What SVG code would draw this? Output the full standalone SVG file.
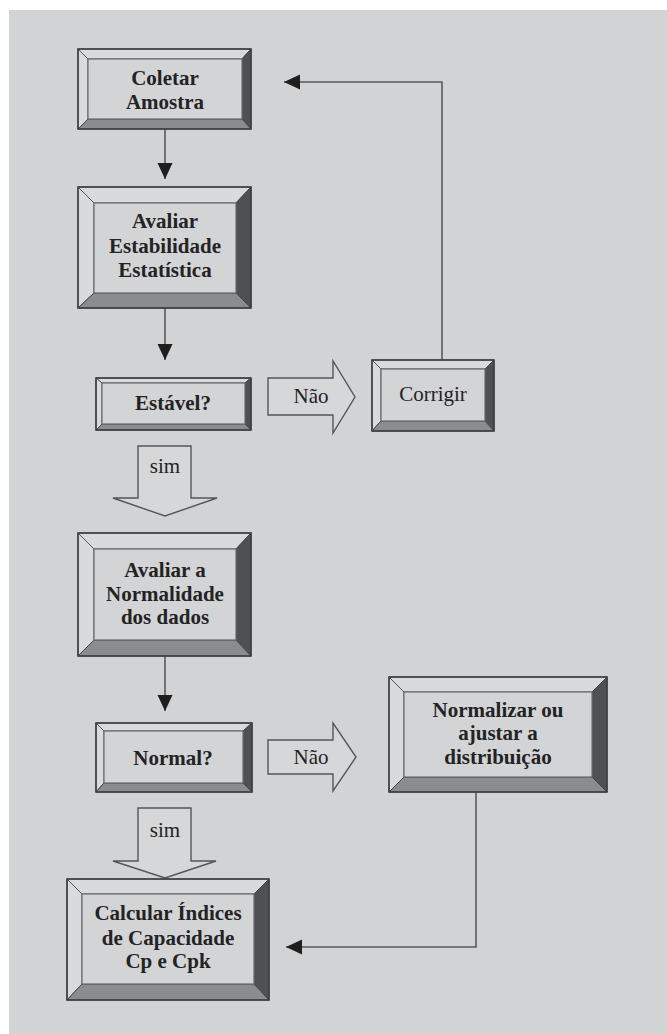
<svg xmlns="http://www.w3.org/2000/svg" width="667" height="1034" viewBox="0 0 667 1034">
<style>
.t{font-family:"Liberation Serif","Times New Roman",serif;font-size:21px;fill:#232323;text-anchor:middle}
.b{font-weight:bold}
.lt{fill:#d9dadc;stroke:#555;stroke-width:1}
.md{fill:#8b8c8f;stroke:#444;stroke-width:1}
.dk{fill:#4f5053;stroke:#444;stroke-width:1}
.face{fill:#d3d4d6;stroke:#6a6b6e;stroke-width:1.2}
.outer{fill:none;stroke:#3e3f42;stroke-width:1.6}
.blk{fill:#d6d7d9;stroke:#555;stroke-width:1.4;stroke-linejoin:miter}
.ln{fill:none;stroke:#5a5a5c;stroke-width:1.6}
</style>
<defs>
<marker id="ah" markerUnits="userSpaceOnUse" markerWidth="18" markerHeight="16" refX="16" refY="7.5" orient="auto">
<path d="M0,0 L16,7.5 L0,15 z" fill="#1e1e1e"/>
</marker>
</defs>
<rect x="0" y="0" width="667" height="1034" fill="#ffffff"/>
<rect x="9" y="10" width="658" height="1024" fill="#d2d3d5"/>

<g id="connectors">
<line class="ln" x1="165" y1="129" x2="165" y2="179" marker-end="url(#ah)"/>
<line class="ln" x1="165" y1="308" x2="165" y2="360" marker-end="url(#ah)"/>
<line class="ln" x1="165" y1="656" x2="165" y2="711" marker-end="url(#ah)"/>
<polyline class="ln" points="442,360 442,82 284,82" marker-end="url(#ah)"/>
<polyline class="ln" points="476,792 476,947 286,947" marker-end="url(#ah)"/>
<g id="nao1">
<polygon class="blk" points="268,378 333,378 333,361 355,397 333,433 333,415 268,415"/>
<text class="t" x="311" y="403">Não</text>
</g>
<g id="nao2">
<polygon class="blk" points="268,740 333,740 333,723 356,757 333,791 333,774 268,774"/>
<text class="t" x="311" y="764">Não</text>
</g>
<g id="sim1">
<polygon class="blk" points="138,446 191,446 191,498 217,498 165,516 113,498 138,498"/>
<text class="t" x="165" y="473">sim</text>
</g>
<g id="sim2">
<polygon class="blk" points="138,808 191,808 191,861 216,861 165,878 113,861 138,861"/>
<text class="t" x="165" y="837">sim</text>
</g>
</g>

<g id="coletar">
<polygon class="lt" points="78,49 251,49 242,59 88,59"/>
<polygon class="lt" points="78,49 88,59 88,119 78,129"/>
<polygon class="dk" points="251,49 251,129 242,119 242,59"/>
<polygon class="md" points="78,129 88,119 242,119 251,129"/>
<rect class="face" x="88" y="59" width="154" height="60"/>
<rect class="outer" x="78" y="49" width="173" height="80"/>
<text class="t b" x="165" y="85">Coletar</text>
<text class="t b" x="165" y="109">Amostra</text>
</g>

<g id="avaliar-estabilidade">
<polygon class="lt" points="78,187 251,187 236,203 94,203"/>
<polygon class="lt" points="78,187 94,203 94,293 78,308"/>
<polygon class="dk" points="251,187 251,308 236,293 236,203"/>
<polygon class="md" points="78,308 94,293 236,293 251,308"/>
<rect class="face" x="94" y="203" width="142" height="90"/>
<rect class="outer" x="78" y="187" width="173" height="121"/>
<text class="t b" x="165" y="228">Avaliar</text>
<text class="t b" x="165" y="253">Estabilidade</text>
<text class="t b" x="165" y="277">Estatística</text>
</g>

<g id="estavel">
<polygon class="lt" points="96,378 251,378 245,383 102,383"/>
<polygon class="lt" points="96,378 102,383 102,424 96,430"/>
<polygon class="dk" points="251,378 251,430 245,424 245,383"/>
<polygon class="md" points="96,430 102,424 245,424 251,430"/>
<rect class="face" x="102" y="383" width="143" height="41"/>
<rect class="outer" x="96" y="378" width="155" height="52"/>
<text class="t b" x="173" y="410">Estável?</text>
</g>

<g id="corrigir">
<polygon class="lt" points="372,360 494,360 485,369 381,369"/>
<polygon class="lt" points="372,360 381,369 381,421 372,431"/>
<polygon class="dk" points="494,360 494,431 485,421 485,369"/>
<polygon class="md" points="372,431 381,421 485,421 494,431"/>
<rect class="face" x="381" y="369" width="104" height="52"/>
<rect class="outer" x="372" y="360" width="122" height="71"/>
<text class="t" x="433" y="401">Corrigir</text>
</g>

<g id="avaliar-normalidade">
<polygon class="lt" points="78,533 251,533 236,549 94,549"/>
<polygon class="lt" points="78,533 94,549 94,640 78,656"/>
<polygon class="dk" points="251,533 251,656 236,640 236,549"/>
<polygon class="md" points="78,656 94,640 236,640 251,656"/>
<rect class="face" x="94" y="549" width="142" height="91"/>
<rect class="outer" x="78" y="533" width="173" height="123"/>
<text class="t b" x="165" y="577">Avaliar a</text>
<text class="t b" x="165" y="601">Normalidade</text>
<text class="t b" x="165" y="624">dos dados</text>
</g>

<g id="normal">
<polygon class="lt" points="96,723 252,723 243,731 104,731"/>
<polygon class="lt" points="96,723 104,731 104,783 96,792"/>
<polygon class="dk" points="252,723 252,792 243,783 243,731"/>
<polygon class="md" points="96,792 104,783 243,783 252,792"/>
<rect class="face" x="104" y="731" width="139" height="52"/>
<rect class="outer" x="96" y="723" width="156" height="69"/>
<text class="t b" x="173" y="765">Normal?</text>
</g>

<g id="normalizar">
<polygon class="lt" points="389,677 607,677 592,692 404,692"/>
<polygon class="lt" points="389,677 404,692 404,777 389,792"/>
<polygon class="dk" points="607,677 607,792 592,777 592,692"/>
<polygon class="md" points="389,792 404,777 592,777 607,792"/>
<rect class="face" x="404" y="692" width="188" height="85"/>
<rect class="outer" x="389" y="677" width="218" height="115"/>
<text class="t b" x="498" y="717">Normalizar ou</text>
<text class="t b" x="498" y="740">ajustar a</text>
<text class="t b" x="498" y="764">distribuição</text>
</g>

<g id="calcular">
<polygon class="lt" points="67,879 269,879 254,894 82,894"/>
<polygon class="lt" points="67,879 82,894 82,984 67,1000"/>
<polygon class="dk" points="269,879 269,1000 254,984 254,894"/>
<polygon class="md" points="67,1000 82,984 254,984 269,1000"/>
<rect class="face" x="82" y="894" width="172" height="90"/>
<rect class="outer" x="67" y="879" width="202" height="121"/>
<text class="t b" x="168" y="920">Calcular Índices</text>
<text class="t b" x="168" y="945">de Capacidade</text>
<text class="t b" x="168" y="968">Cp e Cpk</text>
</g>
</svg>
